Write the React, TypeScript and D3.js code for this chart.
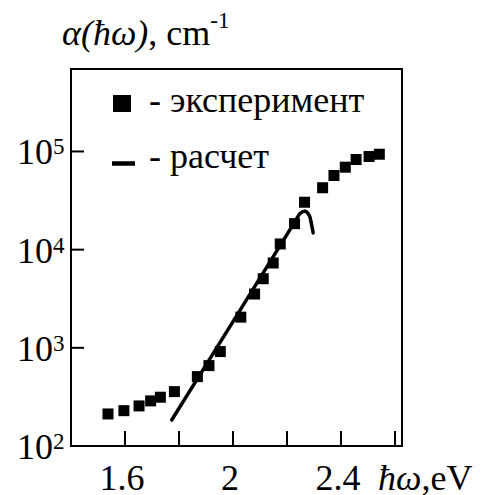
import React from "react";
import * as d3 from "d3";

const expX = [1.537, 1.596, 1.652, 1.695, 1.731, 1.783, 1.868, 1.911, 1.953, 2.029, 2.08, 2.112, 2.149, 2.175, 2.228, 2.265, 2.332, 2.374, 2.416, 2.456, 2.504, 2.542];
const expY = [212, 229, 256, 288, 314, 358, 509, 659, 916, 2054, 3532, 5058, 7311, 11430, 18400, 30400, 42700, 56900, 69200, 82800, 88900, 93700];
const calcX = [1.773, 2.0, 2.23, 2.25, 2.268, 2.283, 2.291, 2.297];
const calcY = [184, 1850, 19400, 23600, 24600, 22200, 18000, 14800];
const xTicks = [1.6, 1.8, 2.0, 2.2, 2.4, 2.6];
const xTickLabels = ["1.6", "", "2", "", "2.4", ""];
const yTicks = [100, 1000, 10000, 100000];
const yExponents = ["2", "3", "4", "5"];
const legendLabels = ["- эксперимент", "- расчет"];

const W = 492, H = 495;
const L = 71, R = 402, T = 69, B = 446;
const ts = { fontFamily: "Times New Roman" };

export default function App() {
  const x = d3.scaleLinear().domain([1.4, 2.626]).range([L, R]);
  const y = d3.scaleLog().domain([100, Math.pow(10, 5.84)]).range([B, T]);
  const line = d3
    .line<number>()
    .x((_, i) => x(calcX[i]))
    .y((d) => y(d))
    .curve(d3.curveCatmullRom.alpha(0.5));
  const sq = 11;
  return (
    <svg width={W} height={H} style={{ position: "absolute", left: 0, top: 0, background: "#fff" }}>
      <rect x={0} y={0} width={W} height={H} fill="#fff" />
      <text x={62} y={45} fontSize={36} fill="#000" style={ts}>
        <tspan fontStyle="italic">α(ħω)</tspan>
        <tspan>, cm</tspan>
        <tspan fontSize={23} dy={-17}>-1</tspan>
      </text>
      <rect x={L} y={T} width={R - L} height={B - T} fill="none" stroke="#000" strokeWidth={2} />
      {xTicks.map((t, i) => (
        <g key={"xt" + i}>
          <line x1={x(t)} x2={x(t)} y1={B} y2={B - 15} stroke="#000" strokeWidth={2} />
          {xTickLabels[i] && (
            <text x={x(t) - 3} y={490} fontSize={36} textAnchor="middle" fill="#000" style={ts}>
              {xTickLabels[i]}
            </text>
          )}
        </g>
      ))}
      <text x={378} y={490} fontSize={36} fill="#000" style={ts}>
        <tspan fontStyle="italic">ħω</tspan>
        <tspan>,eV</tspan>
      </text>
      {yTicks.map((t, i) => (
        <g key={"yt" + i}>
          {i > 0 && <line x1={L} x2={L + 13} y1={y(t)} y2={y(t)} stroke="#000" strokeWidth={2} />}
          <text x={53} y={y(t) + 13} fontSize={36} textAnchor="end" fill="#000" style={ts}>10</text>
          <text x={53} y={y(t) + 3} fontSize={23} textAnchor="start" fill="#000" style={ts}>{yExponents[i]}</text>
        </g>
      ))}
      <path d={line(calcY) || ""} fill="none" stroke="#000" strokeWidth={3.5} strokeLinecap="round" />
      {expY.map((v, i) => (
        <rect key={"p" + i} x={x(expX[i]) - sq / 2} y={y(v) - sq / 2} width={sq} height={sq} fill="#000" />
      ))}
      <rect x={113} y={95} width={18} height={17} fill="#000" />
      <text x={149} y={112} fontSize={36} fill="#000" style={ts}>{legendLabels[0]}</text>
      <line x1={112} x2={135} y1={163.5} y2={163.5} stroke="#000" strokeWidth={4.5} />
      <text x={149} y={168} fontSize={36} fill="#000" style={ts}>{legendLabels[1]}</text>
    </svg>
  );
}
